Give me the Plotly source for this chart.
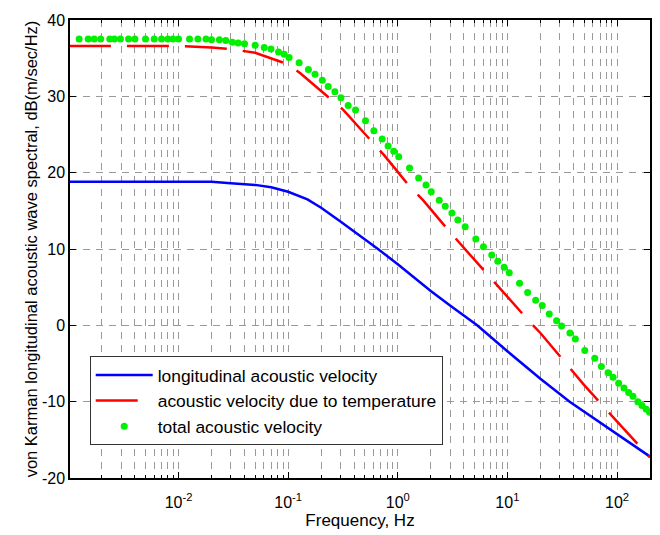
import plotly.graph_objects as go

# ---- data ----
freq_long = [0.001, 0.01, 0.02, 0.03, 0.05, 0.07, 0.1, 0.15, 0.2, 0.3, 0.5, 0.66, 1, 2, 3, 5.3, 10, 20, 37,
             50, 100, 200]
long_db = [18.8, 18.8, 18.8, 18.6, 18.4, 18.1, 17.5, 16.5, 15.4, 13.6, 11.3, 10.0, 8.0, 4.5, 2.6, 0.0, -3.4,
           -7.0, -10.0, -11.3, -14.3, -17.2]

freq_temp = [0.001, 0.01, 0.02, 0.03, 0.05, 0.1, 0.13, 0.2, 0.25, 0.32, 0.5, 0.75, 1, 1.3, 1.7, 3, 5,
             8.4, 10, 15, 20, 35, 50, 77, 100, 200]
temp_db = [36.6, 36.6, 36.4, 36.2, 35.7, 34.2, 33.0, 30.7, 29.5, 28.2, 25.1, 22.3, 20.1, 18.1, 16.4, 12.2, 8.6,
           4.9, 3.7, 0.9, -1.0, -5.1, -7.8, -10.8, -12.6, -17.3]

freq_total = [0.00124, 0.0015, 0.0017, 0.00195, 0.00236, 0.0026, 0.00295, 0.0035, 0.004, 0.005, 0.006, 0.007,
              0.008, 0.0089, 0.01, 0.0126, 0.015, 0.0178, 0.02, 0.0236, 0.027, 0.031, 0.035, 0.04, 0.05, 0.0605,
              0.0697, 0.0817, 0.092, 0.102, 0.126, 0.153, 0.176, 0.205, 0.232, 0.267, 0.303, 0.353, 0.412, 0.508,
              0.605, 0.72, 0.816, 0.92, 1.02, 1.28, 1.55, 1.81, 2.02, 2.39, 2.71, 3.12, 3.53, 4.12, 5.15, 6.05,
              7.2, 8.17, 9.34, 10.4, 12.9, 15.3, 18.1, 20.8, 24.1, 28.1, 31.2, 37.2, 41.7, 50.8, 62.7, 72, 82.8,
              92, 103.5, 115.8, 127.7, 139.7, 155, 168.8, 184.8, 198]
total_db = [37.5, 37.5, 37.5, 37.5, 37.5, 37.5, 37.5, 37.5, 37.5, 37.5, 37.5, 37.5,
            37.5, 37.5, 37.5, 37.5, 37.5, 37.5, 37.4, 37.4, 37.3, 37.1, 37.0, 36.9, 36.7, 36.4,
            36.2, 35.8, 35.5, 35.1, 34.4, 33.5, 32.9, 32.1, 31.3, 30.6, 29.8, 28.8, 28.2, 26.8,
            25.5, 24.4, 23.5, 22.8, 22.1, 20.6, 19.3, 18.4, 17.5, 16.4, 15.6, 14.7, 13.8, 12.9, 11.3, 10.3,
            9.2, 8.4, 7.6, 6.9, 5.5, 4.3, 3.3, 2.6, 1.5, 0.6, -0.1, -1.0, -1.8, -3.3, -4.3, -5.4, -6.2,
            -6.8, -7.6, -8.2, -8.8, -9.3, -10.0, -10.5, -11.0, -11.4]

x_tickvals = [0.01, 0.1, 1, 10, 100]
x_ticktext = ["10<sup>-2</sup>", "10<sup>-1</sup>", "10<sup>0</sup>", "10<sup>1</sup>", "10<sup>2</sup>"]
y_tickvals = [-20, -10, 0, 10, 20, 30, 40]
y_ticktext = ["-20", "-10", "0", "10", "20", "30", "40"]

names = ["longitudinal acoustic velocity", "acoustic velocity due to temperature", "total acoustic velocity"]

FONT = "Liberation Sans, Arial, sans-serif"
GRID = "#9a9a9a"

fig = go.Figure()
fig.add_trace(go.Scatter(x=freq_long, y=long_db, mode="lines", name=names[0],
                         line=dict(color="#0000ff", width=2.5)))
fig.add_trace(go.Scatter(x=freq_temp, y=temp_db, mode="lines", name=names[1],
                         line=dict(color="#ff0000", width=2.5, dash="42px,16px")))
fig.add_trace(go.Scatter(x=freq_total, y=total_db, mode="markers", name=names[2],
                         marker=dict(color="#00f000", size=7, line=dict(width=0))))

axis_common = dict(
    showline=True, linecolor="black", linewidth=1.5, mirror="ticks",
    ticks="inside", ticklen=6, tickcolor="black", tickwidth=1,
    showgrid=True, gridcolor=GRID, gridwidth=1, griddash="7px,6px",
    zeroline=False, tickfont=dict(family=FONT, size=16, color="black"),
)

fig.update_xaxes(
    type="log", range=[-2.99, 2.301],
    tickmode="array", tickvals=x_tickvals, ticktext=x_ticktext,
    ticklabelstandoff=9,
    minor=dict(dtick="D1", ticks="inside", ticklen=3, tickcolor="black",
               showgrid=True, gridcolor=GRID, gridwidth=1, griddash="7px,6px"),
    title=dict(text="Frequency, Hz", font=dict(family=FONT, size=17, color="black"), standoff=4),
    **axis_common,
)
fig.update_yaxes(
    range=[-20, 40], tickmode="array", tickvals=y_tickvals, ticktext=y_ticktext,
    title=dict(text="von Karman longitudinal acoustic wave spectral, dB(m/sec/Hz)",
               font=dict(family=FONT, size=16.5, color="black"), standoff=0),
    **axis_common,
)

fig.update_layout(
    width=660, height=535,
    margin=dict(l=70, r=8, t=20, b=57),
    paper_bgcolor="white", plot_bgcolor="white",
    showlegend=True,
    legend=dict(x=0.034, y=0.266, xanchor="left", yanchor="top",
                bgcolor="white", bordercolor="#333333", borderwidth=1,
                font=dict(family=FONT, size=17.4, color="black"),
                itemwidth=57, tracegroupgap=0),
)

fig.write_html("out.html", config={"displayModeBar": False},
               post_script="document.body.style.margin='0';")
